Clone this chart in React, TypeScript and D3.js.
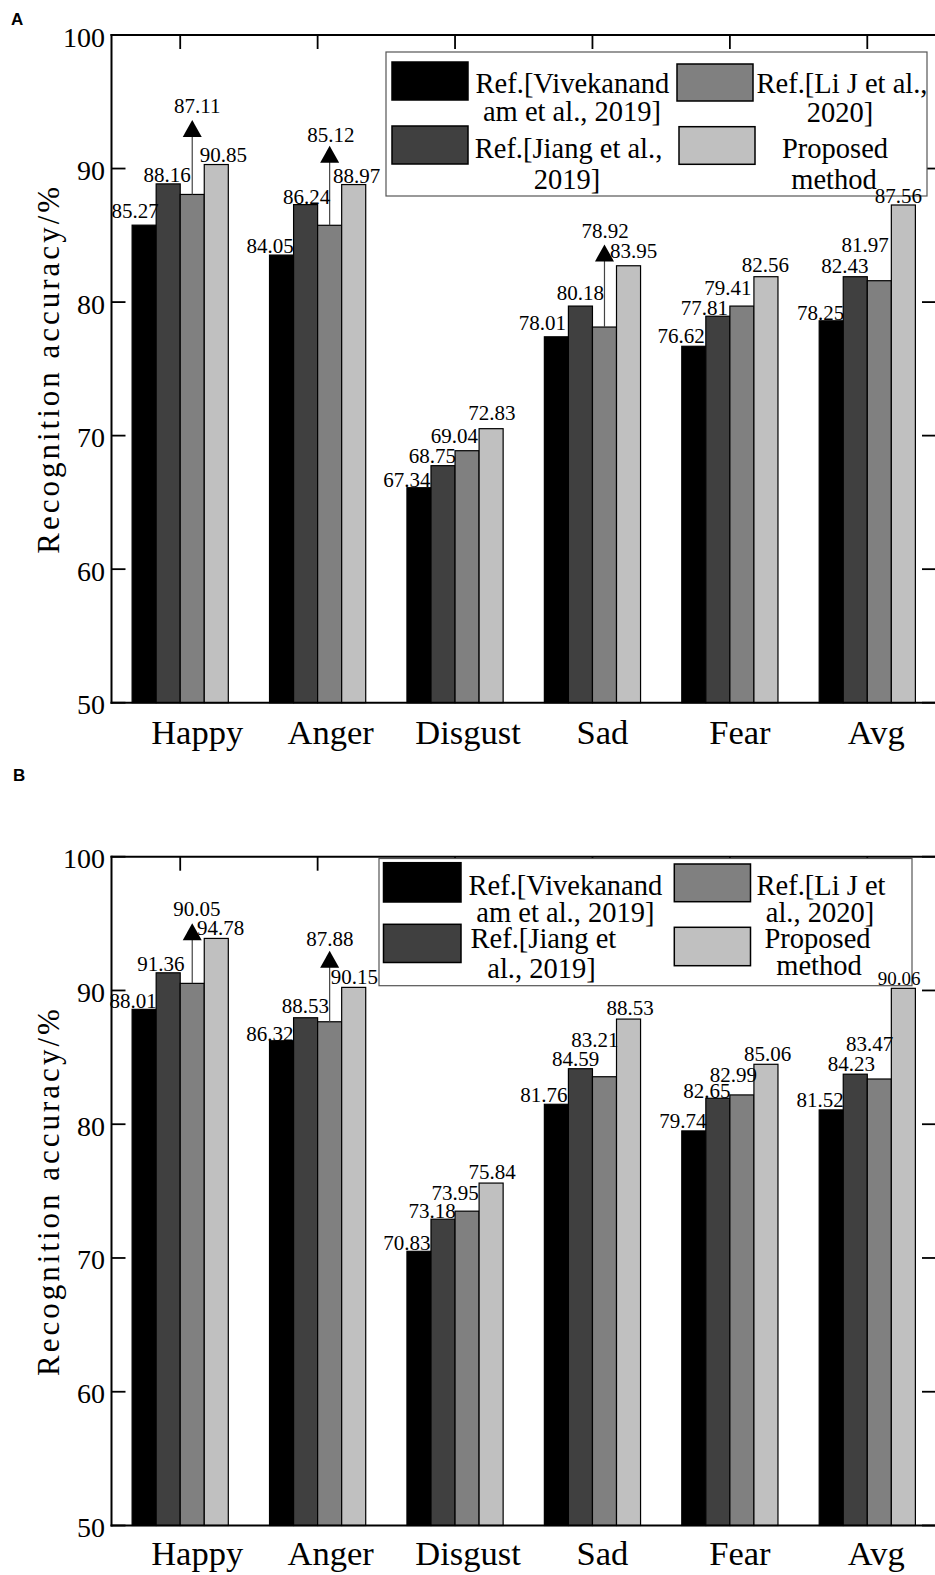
import React, { useEffect, useRef } from 'react';
import * as d3 from 'd3';

// ---------- data ----------
const categories = ['Happy', 'Anger', 'Disgust', 'Sad', 'Fear', 'Avg'];
const yTicks = [50, 60, 70, 80, 90, 100];
const colors = ['#000000', '#404040', '#808080', '#c0c0c0'];

// Panel A bar heights
const vivekanandA = [85.76, 83.52, 66.1, 77.4, 76.69, 78.6];
const jiangA = [88.85, 87.3, 67.75, 79.7, 78.94, 81.9];
const liJA = [88.06, 85.75, 68.87, 78.13, 79.7, 81.6];
const proposedA = [90.3, 88.8, 70.52, 82.72, 81.9, 87.27];
// Panel A printed labels
const vivekanandLabelsA = ['85.27', '84.05', '67.34', '78.01', '76.62', '78.25'];
const jiangLabelsA = ['88.16', '86.24', '68.75', '80.18', '77.81', '82.43'];
const liJLabelsA = ['87.11', '85.12', '69.04', '78.92', '79.41', '81.97'];
const proposedLabelsA = ['90.85', '88.97', '72.83', '83.95', '82.56', '87.56'];
// arrow tips (value units) on the Li J bars, panel A
const arrowTipA = [93.63, 91.7, null, 84.32, null, null];

// Panel B bar heights
const vivekanandB = [88.59, 86.24, 70.5, 81.49, 79.5, 81.07];
const jiangB = [91.32, 87.96, 72.9, 84.15, 81.94, 83.74];
const liJB = [90.53, 87.66, 73.5, 83.55, 82.19, 83.38];
const proposedB = [93.89, 90.23, 75.6, 87.86, 84.48, 90.16];
// Panel B printed labels
const vivekanandLabelsB = ['88.01', '86.32', '70.83', '81.76', '79.74', '81.52'];
const jiangLabelsB = ['91.36', '88.53', '73.18', '84.59', '82.65', '84.23'];
const liJLabelsB = ['90.05', '87.88', '73.95', '83.21', '82.99', '83.47'];
const proposedLabelsB = ['94.78', '90.15', '75.84', '88.53', '85.06', '90.06'];
const arrowTipB = [95.02, 92.97, null, null, null, null];

// ---------- layout (label anchors in value units, px nudges) ----------
const labelYA = [
  [86.29, 83.65, 66.12, 77.9, 76.91, 78.65],
  [89.01, 87.34, 67.96, 80.15, 79.03, 82.15],
  [94.16, 91.98, 69.41, 84.77, 80.52, 83.77],
  [90.49, 88.94, 71.16, 83.27, 82.27, 87.39],
];
const labelDxA = [
  [-9, -11.5, -12, -14, -12.6, -10.5],
  [-1, 1, -10.6, 0, -13.6, -10.3],
  [5, 1.3, -12.6, 0.6, -14, -14.3],
  [7, 3, 0.7, 5, -0.6, -5],
];
const labelYB = [
  [88.67, 86.25, 70.62, 81.69, 79.75, 81.32],
  [91.48, 88.3, 73.0, 84.36, 81.99, 84.01],
  [95.57, 93.33, 74.3, 85.76, 83.18, 85.5],
  [94.15, 90.49, 75.9, 88.17, 84.75, 90.41],
];
const labelDxB = [
  [-11, -11.8, -12, -12.4, -11, -11.2],
  [-7.2, -0.3, -11, -4.9, -11, -3.8],
  [4.6, 0.2, -12, -9.7, -8.4, -9.8],
  [4.4, 0.7, 1, 1.6, 1.7, -4.3],
];
const xLabelDx = [17, 13, 13, 10, 10, 9];

const SERIF = '"Liberation Serif", "Times New Roman", Times, serif';
const SANS = '"Liberation Sans", Arial, Helvetica, sans-serif';
const LEFT = 111.5;
const RIGHT = 936;

type Legend = {
  box: [number, number, number, number];
  swatches: [number, number, number, number][];
  texts: { t: string; x: number; y: number }[];
};

type Panel = {
  letter: string;
  letterX: number;
  letterY: number;
  top: number;
  bottom: number;
  xLabelY: number;
  series: number[][];
  labels: string[][];
  labelY: number[][];
  labelDx: number[][];
  smallLabel: [number, number] | null;
  arrowTip: (number | null)[];
  legend: Legend;
};

const panels: Panel[] = [
  {
    letter: 'A',
    letterX: 11,
    letterY: 25,
    top: 35,
    bottom: 702.7,
    xLabelY: 743.5,
    series: [vivekanandA, jiangA, liJA, proposedA],
    labels: [vivekanandLabelsA, jiangLabelsA, liJLabelsA, proposedLabelsA],
    labelY: labelYA,
    labelDx: labelDxA,
    smallLabel: null,
    arrowTip: arrowTipA,
    legend: {
      box: [386, 52, 927, 196],
      swatches: [
        [392, 62, 468, 100],
        [392, 126, 468, 164],
        [677, 64, 753, 101],
        [679, 126.7, 755, 164.3],
      ],
      texts: [
        { t: 'Ref.[Vivekanand', x: 572.5, y: 93 },
        { t: 'am et al., 2019]', x: 572, y: 120.5 },
        { t: 'Ref.[Jiang et al.,', x: 568.5, y: 158 },
        { t: '2019]', x: 567, y: 189 },
        { t: 'Ref.[Li J et al.,', x: 842, y: 93 },
        { t: '2020]', x: 840, y: 121.5 },
        { t: 'Proposed', x: 835, y: 158 },
        { t: 'method', x: 834, y: 189 },
      ],
    },
  },
  {
    letter: 'B',
    letterX: 13,
    letterY: 781,
    top: 856.7,
    bottom: 1525.5,
    xLabelY: 1565,
    series: [vivekanandB, jiangB, liJB, proposedB],
    labels: [vivekanandLabelsB, jiangLabelsB, liJLabelsB, proposedLabelsB],
    labelY: labelYB,
    labelDx: labelDxB,
    smallLabel: [3, 5],
    arrowTip: arrowTipB,
    legend: {
      box: [379, 858.5, 912, 985.7],
      swatches: [
        [383.5, 862.7, 461, 902],
        [383.5, 924.3, 461, 962.5],
        [674.3, 864, 750.5, 901.7],
        [674.3, 927.3, 750.5, 965.7],
      ],
      texts: [
        { t: 'Ref.[Vivekanand', x: 565.4, y: 895 },
        { t: 'am et al., 2019]', x: 565.4, y: 921.7 },
        { t: 'Ref.[Jiang et', x: 543.4, y: 948.3 },
        { t: 'al., 2019]', x: 541.5, y: 978.3 },
        { t: 'Ref.[Li J et', x: 821, y: 895 },
        { t: 'al., 2020]', x: 820, y: 921.7 },
        { t: 'Proposed', x: 817.5, y: 948.3 },
        { t: 'method', x: 819, y: 975 },
      ],
    },
  },
];

function drawPanel(svg: d3.Selection<SVGSVGElement, unknown, null, undefined>, p: Panel) {
  const g = svg.append('g');
  const y = d3.scaleLinear().domain([50, 100]).range([p.bottom, p.top]);
  const x = d3.scaleBand<string>().domain(categories).range([LEFT, RIGHT]);
  const groupW = x.bandwidth() * 0.7;
  const inner = d3.scaleBand<number>().domain([0, 1, 2, 3]).range([0, groupW]);
  const gx = (c: string) => (x(c) as number) + (x.bandwidth() - groupW) / 2;
  const center = (c: string) => (x(c) as number) + x.bandwidth() / 2;

  // bottom ticks (under bars)
  g.selectAll('line.bt')
    .data(categories)
    .enter()
    .append('line')
    .attr('x1', (c) => center(c))
    .attr('x2', (c) => center(c))
    .attr('y1', y(50))
    .attr('y2', y(50) - 14)
    .attr('stroke', '#000')
    .attr('stroke-width', 1.5);

  // bars
  p.series.forEach((vals, si) => {
    g.selectAll(`rect.s${si}`)
      .data(vals)
      .enter()
      .append('rect')
      .attr('x', (_, i) => gx(categories[i]) + (inner(si) as number))
      .attr('y', (v) => y(v))
      .attr('width', inner.bandwidth())
      .attr('height', (v) => y(50) - y(v))
      .attr('fill', colors[si])
      .attr('stroke', '#000')
      .attr('stroke-width', 1.2);
  });

  // frame
  const frame = [
    [LEFT, y(100), RIGHT, y(100)],
    [LEFT, y(50), RIGHT, y(50)],
    [LEFT, y(100), LEFT, y(50)],
    [RIGHT, y(100), RIGHT, y(50)],
  ];
  frame.forEach(([x1, y1, x2, y2]) =>
    g.append('line').attr('x1', x1).attr('y1', y1).attr('x2', x2).attr('y2', y2)
      .attr('stroke', '#000').attr('stroke-width', 2).attr('stroke-linecap', 'square'));

  // y ticks (left and right, inward)
  yTicks.forEach((t) => {
    g.append('line').attr('x1', LEFT).attr('x2', LEFT + 14).attr('y1', y(t)).attr('y2', y(t))
      .attr('stroke', '#000').attr('stroke-width', 1.8);
    g.append('line').attr('x1', RIGHT - 14).attr('x2', RIGHT).attr('y1', y(t)).attr('y2', y(t))
      .attr('stroke', '#000').attr('stroke-width', 1.8);
    g.append('text')
      .attr('x', 105)
      .attr('y', y(t) + 11.5)
      .attr('text-anchor', 'end')
      .attr('font-family', SERIF)
      .attr('font-size', 28)
      .attr('fill', '#000')
      .text(String(t));
  });

  // top ticks
  categories.forEach((c) => {
    g.append('line').attr('x1', center(c)).attr('x2', center(c))
      .attr('y1', y(100)).attr('y2', y(100) + 14)
      .attr('stroke', '#000').attr('stroke-width', 1.8);
  });

  // x labels
  categories.forEach((c, i) => {
    g.append('text')
      .attr('x', center(c) + xLabelDx[i])
      .attr('y', p.xLabelY)
      .attr('text-anchor', 'middle')
      .attr('font-family', SERIF)
      .attr('font-size', 34.5)
      .attr('fill', '#000')
      .text(c);
  });

  // y axis title
  const midY = (y(50) + y(100)) / 2;
  g.append('text')
    .attr('transform', `translate(59,${midY}) rotate(-90)`)
    .attr('text-anchor', 'middle')
    .attr('font-family', SERIF)
    .attr('font-size', 31)
    .attr('letter-spacing', 3)
    .attr('fill', '#000')
    .text('Recognition accuracy/%');

  // legend (drawn before value labels, which sit on top of it)
  const L = p.legend;
  g.append('rect')
    .attr('x', L.box[0]).attr('y', L.box[1])
    .attr('width', L.box[2] - L.box[0]).attr('height', L.box[3] - L.box[1])
    .attr('fill', '#fff').attr('stroke', '#555').attr('stroke-width', 1.2);
  L.swatches.forEach((s, si) => {
    g.append('rect')
      .attr('x', s[0]).attr('y', s[1]).attr('width', s[2] - s[0]).attr('height', s[3] - s[1])
      .attr('fill', colors[si]).attr('stroke', '#000').attr('stroke-width', 1.5);
  });
  L.texts.forEach((t) => {
    g.append('text')
      .attr('x', t.x).attr('y', t.y)
      .attr('text-anchor', 'middle')
      .attr('font-family', SERIF)
      .attr('font-size', 28.5)
      .attr('fill', '#000')
      .text(t.t);
  });

  // arrows on Li J bars
  p.arrowTip.forEach((tip, i) => {
    if (tip == null) return;
    const cx = gx(categories[i]) + (inner(2) as number) + inner.bandwidth() / 2;
    const ty = y(tip);
    g.append('line').attr('x1', cx).attr('x2', cx).attr('y1', y(p.series[2][i])).attr('y2', ty + 16)
      .attr('stroke', '#444').attr('stroke-width', 1.2);
    g.append('path')
      .attr('d', `M${cx},${ty} L${cx - 9.5},${ty + 17} L${cx + 9.5},${ty + 17} Z`)
      .attr('fill', '#000');
  });

  // value labels
  p.labels.forEach((labs, si) => {
    labs.forEach((lab, i) => {
      const cx = gx(categories[i]) + (inner(si) as number) + inner.bandwidth() / 2;
      const small = p.smallLabel && p.smallLabel[0] === si && p.smallLabel[1] === i;
      g.append('text')
        .attr('x', cx + p.labelDx[si][i])
        .attr('y', y(p.labelY[si][i]))
        .attr('text-anchor', 'middle')
        .attr('font-family', SERIF)
        .attr('font-size', small ? 19 : 21)
        .attr('fill', '#000')
        .text(lab);
    });
  });

  // panel letter
  svg.append('text')
    .attr('x', p.letterX)
    .attr('y', p.letterY)
    .attr('font-family', SANS)
    .attr('font-weight', 'bold')
    .attr('font-size', 17)
    .attr('fill', '#000')
    .text(p.letter);
}

export default function App() {
  const ref = useRef<SVGSVGElement>(null);
  useEffect(() => {
    document.body.style.margin = '0';
    if (!ref.current) return;
    const svg = d3.select(ref.current);
    svg.selectAll('*').remove();
    svg.append('rect').attr('width', 935).attr('height', 1575).attr('fill', '#fff');
    panels.forEach((p) => drawPanel(svg, p));
  }, []);
  return <svg ref={ref} width={935} height={1575} style={{ display: 'block' }} />;
}
